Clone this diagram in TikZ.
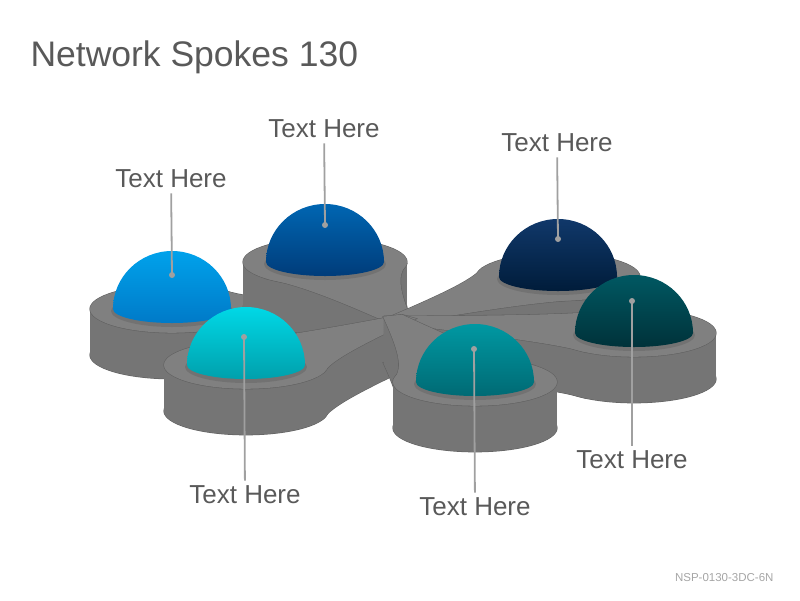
\documentclass[tikz,border=0pt]{standalone}
\usepackage{fontspec}
\setmainfont{Liberation Sans}

\definecolor{inkgray}{RGB}{89,89,89}
\definecolor{leadgray}{RGB}{160,160,160}
\definecolor{codegray}{RGB}{165,165,165}
\definecolor{topgray}{RGB}{128,128,128}
\definecolor{sidegray}{RGB}{117,117,117}
\definecolor{edgegray}{RGB}{96,96,96}
\definecolor{skyA}{RGB}{0,162,235}\definecolor{skyB}{RGB}{0,122,200}
\definecolor{blueA}{RGB}{0,102,178}\definecolor{blueB}{RGB}{0,60,122}
\definecolor{navyA}{RGB}{16,56,106}\definecolor{navyB}{RGB}{0,28,58}
\definecolor{pineA}{RGB}{0,88,98}\definecolor{pineB}{RGB}{0,50,58}
\definecolor{tealA}{RGB}{0,152,162}\definecolor{tealB}{RGB}{0,106,116}
\definecolor{aquaA}{RGB}{0,216,230}\definecolor{aquaB}{RGB}{0,160,172}

% hub centre, tilt of the ground plane, puck radius, wall height
\newcommand\hubx{398}
\newcommand\huby{320}
\newcommand\tilt{0.29}
\newcommand\prad{82}
\newcommand\wall{46}

% point at distance #2 along the spoke, #3 across it
\newcommand\gpt[3]{%
  \pgfmathsetmacro\tmpx{\px+(#2)*\spux-(#3)*\spuy}%
  \pgfmathsetmacro\tmpy{\py+\tilt*((#2)*\spuy+(#3)*\spux)}%
  \expandafter\let\csname #1x\endcsname\tmpx
  \expandafter\let\csname #1y\endcsname\tmpy}
\newcommand\setspoke[2]{%
  \def\px{#1}\def\py{#2}%
  \pgfmathsetmacro\spdx{\hubx-#1}%
  \pgfmathsetmacro\spdy{(\huby-#2)/\tilt}%
  \pgfmathsetmacro\spdl{veclen(\spdx,\spdy)}%
  \pgfmathsetmacro\spux{\spdx/\spdl}%
  \pgfmathsetmacro\spuy{\spdy/\spdl}%
  \pgfmathsetmacro\splen{\spdl+16}%
  \gpt{pa}{35}{74}\gpt{pb}{70}{50}\gpt{pc}{0.55*\splen}{34}\gpt{pd}{\splen}{10}%
  \gpt{pe}{\splen}{-10}\gpt{pf}{0.55*\splen}{-34}\gpt{pg}{70}{-50}\gpt{ph}{35}{-74}}
\newcommand\drawspoke[2]{%
  \setspoke{#1}{#2}%
  \draw[rim,shift={(0,\wall)}][puck]; \draw[rim,shift={(0,\wall)}][arm];
  \foreach \k in {46,44,...,2}{
    \fill[side,shift={(0,\k)}][puck]; \fill[side,shift={(0,\k)}][arm];
  }
  \draw[rim][puck]; \draw[rim][arm];
  \fill[top][puck]; \fill[top][arm];}
\newcommand\dome[4]{%
  \fill[black,opacity=0.1] (#1,#2+2) ellipse [x radius=61, y radius=16];
  \shade[top color=#3,bottom color=#4] (#1-59,#2)
    arc [start angle=180,end angle=360,x radius=59,y radius=58]
    arc [start angle=0,end angle=180,x radius=59,y radius=14] -- cycle;}

\begin{document}
\begin{tikzpicture}[x=1pt,y=-1pt,
  top/.style={fill=topgray},
  side/.style={fill=sidegray},
  rim/.style={draw=edgegray,line width=1.1pt},
  puck/.style={insert path={(\px,\py) ellipse [x radius=\prad, y radius=\prad*\tilt]}},
  arm/.style={insert path={(\pax,\pay) .. controls (\pbx,\pby) and (\pcx,\pcy) .. (\pdx,\pdy)
    -- (\pex,\pey) .. controls (\pfx,\pfy) and (\pgx,\pgy) .. (\phx,\phy) -- cycle}},
  tag/.style={text=inkgray,font=\fontsize{26}{30}\selectfont,inner sep=5pt},
  leader/.style={draw=leadgray,line width=1.8pt},
  knob/.style={fill=leadgray}]
\useasboundingbox (0,0) rectangle (800,600);

\node[anchor=west,text=inkgray,font=\fontsize{35.5}{40}\selectfont] (title) at (27,57) {Network Spokes 130};

% platform, back to front
\drawspoke{172}{309}
\drawspoke{325}{262}
\drawspoke{558}{277}
\drawspoke{634}{333}
\drawspoke{246}{365}
\drawspoke{475}{382}

% domes
\dome{172}{309}{skyA}{skyB}
\dome{325}{262}{blueA}{blueB}
\dome{558}{277}{navyA}{navyB}
\dome{634}{333}{pineA}{pineB}
\dome{246}{365}{aquaA}{aquaB}
\dome{475}{382}{tealA}{tealB}

% labels
\node[tag] (t1) at (171,179) {Text Here};
\node[tag] (t2) at (324,129) {Text Here};
\node[tag] (t3) at (557,143) {Text Here};
\node[tag] (t4) at (632,460) {Text Here};
\node[tag] (t5) at (475,507) {Text Here};
\node[tag] (t6) at (245,495) {Text Here};
\coordinate (d1) at (172,275);
\coordinate (d2) at (325,225);
\coordinate (d3) at (558,239);
\coordinate (d4) at (632,301);
\coordinate (d5) at (474,349);
\coordinate (d6) at (244,337);
\foreach \i in {1,...,6}{
  \draw[leader] (t\i) -- (d\i);
  \fill[knob] (d\i) circle (3);
}

\node[anchor=east,text=codegray,font=\fontsize{11.5}{14}\selectfont] (code) at (777,578) {NSP-0130-3DC-6N};
\end{tikzpicture}
\end{document}
